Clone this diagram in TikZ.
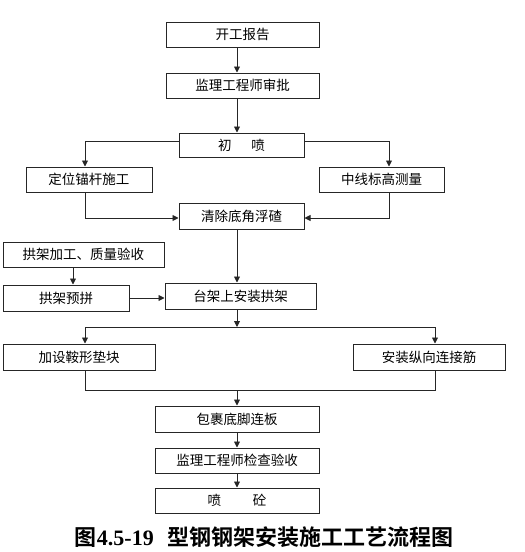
\documentclass[tikz,border=0pt]{standalone}
\usepackage{fontspec}
\newfontfamily\cjk{Noto Sans CJK SC}
\newfontfamily\cjkbold{Noto Sans CJK SC Bold}
\newfontfamily\capnum{Liberation Serif}
\usetikzlibrary{arrows.meta}
\begin{document}
\begin{tikzpicture}[x=1pt,y=-1pt,
  box/.style={draw=black!85,line width=1pt,minimum height=25pt,inner sep=0pt,font=\cjk\fontsize{13.5}{13.5}\selectfont},
  conn/.style={draw=black!85,line width=0.9pt},
  arr/.style={conn,-{Triangle[length=6pt,width=6pt]}}]
\useasboundingbox (0,0) rectangle (525,552);
\node[box,minimum width=153pt] (b1) at (242.5,34.5) {开工报告};
\node[box,minimum width=153pt] (b2) at (242.5,85.5) {监理工程师审批};
\node[box,minimum width=125pt,minimum height=24pt] (b3) at (241.5,145) {初\hspace{20pt}喷};
\node[box,minimum width=126pt] (b4) at (89,179.5) {定位锚杆施工};
\node[box,minimum width=125pt] (b5) at (381.5,179.5) {中线标高测量};
\node[box,minimum width=125pt,minimum height=26pt] (b6) at (241.5,216) {清除底角浮碴};
\node[box,minimum width=161pt] (b7) at (83.5,254.5) {拱架加工、质量验收};
\node[box,minimum width=126pt,minimum height=26pt] (b8) at (66,298) {拱架预拼};
\node[box,minimum width=151pt,minimum height=26pt] (b9) at (240.5,296) {台架上安装拱架};
\node[box,minimum width=152pt,minimum height=26pt] (b10) at (79,357) {加设鞍形垫块};
\node[box,minimum width=152pt,minimum height=26pt] (b11) at (429,357) {安装纵向连接筋};
\node[box,minimum width=164pt,minimum height=26pt] (b12) at (237,419) {包裹底脚连板};
\node[box,minimum width=164pt] (b13) at (237,460.5) {监理工程师检查验收};
\node[box,minimum width=164pt] (b14) at (237,500.5) {喷\hspace{32pt}砼};
\node (cap) at (264,537) {\cjkbold\fontsize{22}{22}\selectfont 图{\capnum\bfseries 4.5-19}\hspace{0.6em}型钢钢架安装施工工艺流程图};
% coordinates
\coordinate (jA) at (237,327);
\coordinate (jL) at (85,327);
\coordinate (jR) at (435,327);
\coordinate (kL) at (85,390);
\coordinate (kR) at (435,390);
\coordinate (kM) at (237,390);
% connectors
\draw[arr] (b1.south -| 237,0) -- (b2.north -| 237,0);
\draw[arr] (b2.south -| 237,0) -- (b3.north -| 237,0);
\draw[arr] (b3.west |- 0,141) -| (b4.north -| 85,0);
\draw[arr] (b3.east |- 0,141) -| (b5.north -| 389,0);
\draw[arr] (b4.south -| 85,0) |- (b6.west |- 0,218);
\draw[arr] (b5.south -| 389,0) |- (b6.east |- 0,218);
\draw[arr] (b6.south -| 237,0) -- (b9.north -| 237,0);
\draw[arr] (b7.south -| 73,0) -- (b8.north -| 73,0);
\draw[arr] (b8.east) -- (b9.west |- b8.east);
\draw[arr] (b9.south -| 237,0) -- (jA);
\draw[conn] (jL) -- (jR);
\draw[arr] (jL) -- (b10.north -| jL);
\draw[arr] (jR) -- (b11.north -| jR);
\draw[conn] (b10.south -| kL) -- (kL) -- (kR) -- (b11.south -| kR);
\draw[arr] (kM) -- (b12.north -| kM);
\draw[arr] (b12.south -| 237,0) -- (b13.north -| 237,0);
\draw[arr] (b13.south -| 237,0) -- (b14.north -| 237,0);
\end{tikzpicture}
\end{document}
